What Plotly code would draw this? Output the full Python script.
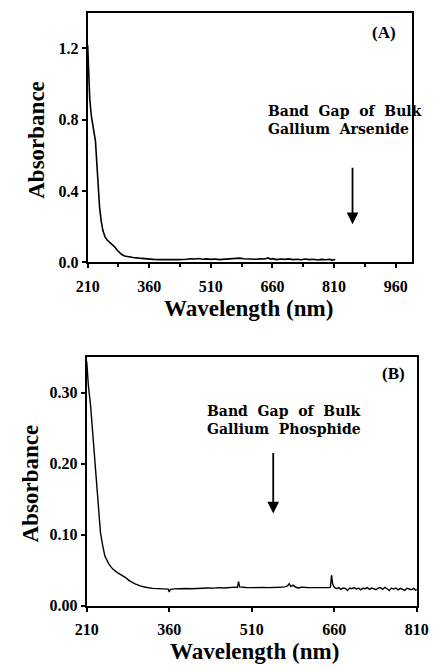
import plotly.graph_objects as go

# ---------------- Panel A data (Gallium Arsenide) ----------------
wl_a = [210, 212, 215, 219, 224, 229, 233, 236, 239, 243, 247, 252, 258, 265, 272, 276,
        282, 288, 293, 300, 310, 321, 335, 352, 370, 390, 410, 430, 450, 460, 470, 480,
        490, 500, 510, 520, 530, 540, 550, 560, 570, 580, 590, 600, 610, 620, 630, 640,
        650, 655, 660, 670, 680, 690, 700, 710, 720, 730, 740, 750, 760, 770, 780, 790,
        800, 805, 810, 813]
abs_a = [1.22, 1.05, 0.92, 0.82, 0.76, 0.68, 0.53, 0.40, 0.31, 0.23, 0.18, 0.145, 0.124, 0.11,
         0.098, 0.087, 0.068, 0.052, 0.044, 0.036, 0.031, 0.028, 0.024, 0.019, 0.017, 0.016,
         0.015, 0.016, 0.018, 0.021, 0.019, 0.022, 0.018, 0.020, 0.017, 0.019, 0.016, 0.018,
         0.017, 0.020, 0.022, 0.024, 0.021, 0.019, 0.021, 0.018, 0.020, 0.019, 0.025, 0.018,
         0.021, 0.016, 0.019, 0.017, 0.020, 0.016, 0.018, 0.015, 0.019, 0.016, 0.018, 0.014,
         0.017, 0.015, 0.018, 0.012, 0.016, 0.015]

# ---------------- Panel B data (Gallium Phosphide) ----------------
wl_b = [210, 213, 217, 220, 223, 226, 229, 232, 235, 239, 243, 250, 257, 265, 272, 280,
        288, 297, 307, 317, 330, 343, 352, 358, 360, 362, 370, 380, 390, 400, 410, 420,
        430, 440, 450, 460, 470, 475, 480, 484, 486, 488, 492, 500, 510, 520, 530, 540,
        550, 560, 570, 575, 578, 581, 585, 590, 595, 600, 610, 620, 630, 640, 650, 653,
        655, 657, 660, 664, 668, 672, 676, 680, 684, 688, 692, 696, 700, 704, 708, 712,
        716, 720, 724, 728, 732, 736, 740, 744, 748, 752, 756, 760, 764, 768, 772, 776,
        780, 784, 788, 792, 796, 800, 804, 808, 810]
abs_b = [0.344, 0.31, 0.282, 0.25, 0.222, 0.19, 0.155, 0.125, 0.103, 0.085, 0.070, 0.059,
         0.052, 0.047, 0.044, 0.040, 0.035, 0.031, 0.028, 0.026, 0.0245, 0.024, 0.024,
         0.0235, 0.0195, 0.023, 0.0238, 0.0235, 0.0242, 0.024, 0.0245, 0.0243, 0.025,
         0.0248, 0.0255, 0.025, 0.026, 0.0255, 0.0262, 0.0258, 0.034, 0.0265, 0.026,
         0.0258, 0.0255, 0.026, 0.0258, 0.0255, 0.0262, 0.026, 0.0265, 0.028, 0.031,
         0.027, 0.029, 0.026, 0.025, 0.0262, 0.0258, 0.0255, 0.026, 0.0255, 0.0255,
         0.026, 0.043, 0.031, 0.026, 0.024, 0.0255, 0.023, 0.025, 0.0245, 0.0215, 0.025,
         0.024, 0.0255, 0.0235, 0.025, 0.0225, 0.0245, 0.024, 0.0255, 0.023, 0.025,
         0.024, 0.0225, 0.025, 0.0255, 0.023, 0.026, 0.024, 0.0215, 0.025, 0.0235, 0.025,
         0.0225, 0.0245, 0.023, 0.0215, 0.0245, 0.023, 0.0225, 0.0245, 0.022, 0.023]

xticks_a = [210, 360, 510, 660, 810, 960]
yticks_a = [0.0, 0.4, 0.8, 1.2]
yticklabels_a = ["0.0", "0.4", "0.8", "1.2"]
xticks_b = [210, 360, 510, 660, 810]
yticks_b = [0.0, 0.1, 0.2, 0.3]
yticklabels_b = ["0.00", "0.10", "0.20", "0.30"]

band_gap_a = 855
band_gap_b = 549

W, H = 443, 670
SERIF = "Liberation Serif, Times New Roman, serif"
SLAB = "DejaVu Serif, serif"
GAP = "\u00a0 "


def px_x(p):
    return p / W


def px_y(p):
    return 1 - p / H


fig = go.Figure()
fig.add_trace(go.Scatter(x=wl_a, y=abs_a, mode="lines", line=dict(color="black", width=1.6),
                         xaxis="x", yaxis="y", showlegend=False))
fig.add_trace(go.Scatter(x=wl_b, y=abs_b, mode="lines", line=dict(color="black", width=1.4),
                         xaxis="x2", yaxis="y2", showlegend=False))

axis_common = dict(showgrid=False, zeroline=False, showline=True, linecolor="black",
                   linewidth=2, mirror=True, ticks="outside", ticklen=4, tickwidth=1.5,
                   tickcolor="black",
                   tickfont=dict(family=SERIF, size=16, color="black", weight="bold"))

fig.update_layout(
    width=W, height=H,
    margin=dict(l=0, r=0, t=0, b=0),
    paper_bgcolor="white", plot_bgcolor="white",
    xaxis=dict(domain=[px_x(80), px_x(423)], range=[210, 1000], anchor="y",
               tickvals=xticks_a, ticktext=[str(v) for v in xticks_a], ticklabelstandoff=4,
               minor=dict(ticks="outside", tickvals=[285, 435, 585, 735, 885], ticklen=3,
                          tickwidth=1.5, tickcolor="black"),
               **axis_common),
    yaxis=dict(domain=[px_y(266), px_y(13)], range=[0, 1.4], anchor="x",
               tickvals=yticks_a, ticktext=yticklabels_a, **axis_common),
    xaxis2=dict(domain=[px_x(79), px_x(428)], range=[210, 810], anchor="y2",
                tickvals=xticks_b, ticktext=[str(v) for v in xticks_b], ticklabelstandoff=4,
                **axis_common),
    yaxis2=dict(domain=[px_y(614), px_y(362)], range=[0, 0.35], anchor="x2",
                tickvals=yticks_b, ticktext=yticklabels_b, **axis_common),
)

title_font = dict(family=SERIF, size=23, color="black", weight="bold")
label_font = dict(family=SERIF, size=17, color="black", weight="bold")
note_font = dict(family=SLAB, size=14, color="black", weight="bold")

annotations = [
    # axis titles
    dict(text="Wavelength (nm)", x=px_x(250), y=px_y(313), xref="paper", yref="paper",
         showarrow=False, font=title_font, xanchor="center", yanchor="middle"),
    dict(text="Absorbance", x=px_x(25), y=px_y(142), xref="paper", yref="paper",
         showarrow=False, font=title_font, textangle=-90, xanchor="center", yanchor="middle"),
    dict(text="Wavelength (nm)", x=px_x(256), y=px_y(660), xref="paper", yref="paper",
         showarrow=False, font=title_font, xanchor="center", yanchor="middle"),
    dict(text="Absorbance", x=px_x(19), y=px_y(490), xref="paper", yref="paper",
         showarrow=False, font=title_font, textangle=-90, xanchor="center", yanchor="middle"),
    # panel labels
    dict(text="(A)", x=px_x(393), y=px_y(33), xref="paper", yref="paper",
         showarrow=False, font=label_font, xanchor="center", yanchor="middle"),
    dict(text="(B)", x=px_x(403), y=px_y(379), xref="paper", yref="paper",
         showarrow=False, font=label_font, xanchor="center", yanchor="middle"),
    # notes
    dict(text=f"Band{GAP}Gap{GAP}of{GAP}Bulk<br>Gallium{GAP}Arsenide", x=644, y=0.80,
         xref="x", yref="y", showarrow=False, font=note_font, align="left",
         xanchor="left", yanchor="middle"),
    dict(text=f"Band{GAP}Gap{GAP}of{GAP}Bulk<br>Gallium{GAP}Phosphide", x=425, y=0.261,
         xref="x2", yref="y2", showarrow=False, font=note_font, align="left",
         xanchor="left", yanchor="middle"),
    # arrows
    dict(x=band_gap_a, y=0.214, ax=band_gap_a, ay=0.54, xref="x", yref="y",
         axref="x", ayref="y", showarrow=True, arrowhead=2, arrowsize=1.3,
         arrowwidth=1.8, arrowcolor="black", text=""),
    dict(x=band_gap_b, y=0.130, ax=band_gap_b, ay=0.217, xref="x2", yref="y2",
         axref="x2", ayref="y2", showarrow=True, arrowhead=2, arrowsize=1.3,
         arrowwidth=1.8, arrowcolor="black", text=""),
]
fig.update_layout(annotations=annotations)

fig.write_html("out.html")
